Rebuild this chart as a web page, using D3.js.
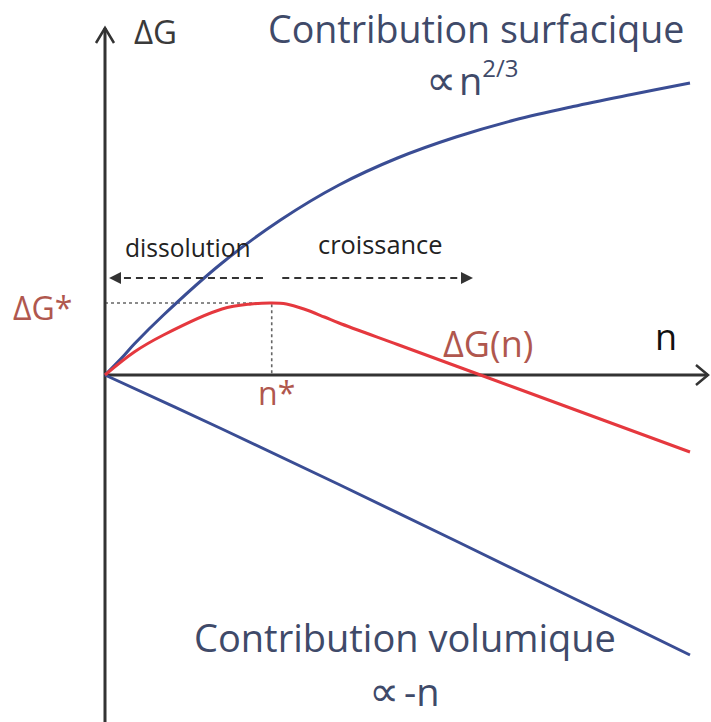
<!DOCTYPE html>
<html>
<head>
<meta charset="utf-8">
<script src="https://cdnjs.cloudflare.com/ajax/libs/d3/7.8.5/d3.min.js"></script>
<style>
  body { margin: 0; background: #fff; }
  svg { display: block; font-family: "Open Sans", "DejaVu Sans", sans-serif; }
</style>
</head>
<body>
<svg id="chart"></svg>
<script>
// n values (arbitrary units) and the three curves
var nSurface = [0, 0.3, 0.5, 1, 2, 3, 4, 5, 6, 7, 8, 9, 10];
var gSurface = [0, 0.36, 0.62, 1.20, 2.24, 3.10, 3.80, 4.34, 4.76, 5.10, 5.37, 5.61, 5.84];

var nVolume = [0, 2, 4, 6, 8, 10];
var gVolume = [0, -1.08, -2.19, -3.32, -4.46, -5.60];

var nTotal = [0, 0.5, 1, 2, 2.5, 2.85, 3.1, 3.4, 3.75, 4, 5, 6, 7, 8, 9, 10];
var gTotal = [0, 0.46, 0.80, 1.32, 1.42, 1.44, 1.42, 1.32, 1.16, 1.04, 0.61, 0.18, -0.25, -0.68, -1.11, -1.54];

// critical point
var nStar = 2.85;
var gStar = 1.44;

// dashed arrows (n from -> n to), drawn at the same height
var dissolutionArrow = [2.70, 0.09];
var croissanceArrow = [3.03, 6.27];
var arrowLevel = 1.94;

var width = 711;
var height = 722;

var svg = d3.select("#chart")
  .attr("width", width)
  .attr("height", height);

var x = d3.scaleLinear().domain([0, 10]).range([105, 690]);
var y = d3.scaleLinear().domain([-7, 7]).range([725, 25]);

var defs = svg.append("defs");
defs.append("marker")
  .attr("id", "tri")
  .attr("viewBox", "0 0 10 10")
  .attr("refX", 9)
  .attr("refY", 5)
  .attr("markerWidth", 6)
  .attr("markerHeight", 6)
  .attr("markerUnits", "strokeWidth")
  .attr("orient", "auto")
  .append("path")
  .attr("d", "M0,0 L10,5 L0,10 Z")
  .attr("fill", "#333");

function zip(ns, gs) {
  return ns.map(function(n, i) { return { n: n, g: gs[i] }; });
}

var line = d3.line()
  .x(function(d) { return x(d.n); })
  .y(function(d) { return y(d.g); })
  .curve(d3.curveCatmullRom.alpha(0.5));

// dotted guides to the maximum
svg.append("path")
  .attr("d", "M" + x(0) + "," + y(gStar) + "H" + x(nStar) + "V" + y(0))
  .attr("fill", "none")
  .attr("stroke", "#666")
  .attr("stroke-width", 1.6)
  .attr("stroke-dasharray", "3,3");

// axes
var axisColor = "#333";
svg.append("line")
  .attr("x1", x(0)).attr("y1", height)
  .attr("x2", x(0)).attr("y2", 28)
  .attr("stroke", axisColor).attr("stroke-width", 3);
svg.append("path")
  .attr("d", "M" + (x(0) - 9) + ",43 L" + x(0) + ",28 L" + (x(0) + 9) + ",43")
  .attr("fill", "none").attr("stroke", axisColor).attr("stroke-width", 2.5);
svg.append("line")
  .attr("x1", x(0)).attr("y1", y(0))
  .attr("x2", 708).attr("y2", y(0))
  .attr("stroke", axisColor).attr("stroke-width", 3);
svg.append("path")
  .attr("d", "M696," + (y(0) - 10) + " L708," + y(0) + " L696," + (y(0) + 10))
  .attr("fill", "none").attr("stroke", axisColor).attr("stroke-width", 2.5);

// curves
svg.append("path")
  .datum(zip(nSurface, gSurface))
  .attr("d", line)
  .attr("fill", "none")
  .attr("stroke", "#3a4d94")
  .attr("stroke-width", 3);
svg.append("path")
  .datum(zip(nVolume, gVolume))
  .attr("d", line)
  .attr("fill", "none")
  .attr("stroke", "#3a4d94")
  .attr("stroke-width", 3);
svg.append("path")
  .datum(zip(nTotal, gTotal))
  .attr("d", line)
  .attr("fill", "none")
  .attr("stroke", "#e5383e")
  .attr("stroke-width", 3);

// dashed arrows
[dissolutionArrow, croissanceArrow].forEach(function(a) {
  svg.append("line")
    .attr("x1", x(a[0])).attr("y1", y(arrowLevel))
    .attr("x2", x(a[1])).attr("y2", y(arrowLevel))
    .attr("stroke", "#333")
    .attr("stroke-width", 2)
    .attr("stroke-dasharray", "7,5")
    .attr("marker-end", "url(#tri)");
});

// labels
function label(txt, px, py, size, color) {
  return svg.append("text")
    .attr("x", px).attr("y", py)
    .attr("font-size", size)
    .attr("fill", color)
    .text(txt);
}
var slate = "#3f4a69";
var brick = "#b0574e";

label("ΔG", 134, 44, 33, "#3a3a3a");
label("Contribution surfacique", 268, 43, 37.6, slate);

var surf = svg.append("text").attr("x", 426).attr("y", 95).attr("fill", slate);
surf.append("tspan").attr("font-family", "DejaVu Sans").attr("font-size", 42).text("∝");
surf.append("tspan").attr("font-size", 38).attr("dx", 3).text("n");
surf.append("tspan").attr("font-size", 24).attr("dy", -18).text("2/3");

label("dissolution", 125, 257, 24.6, "#222");
label("croissance", 318, 254, 25.4, "#222");
label("ΔG*", 13, 320, 32, brick);
label("ΔG(n)", 443, 357, 36, brick);
label("n", 655, 350, 36, "#111");
label("n*", 258, 405, 32, brick);

label("Contribution volumique", 194, 652, 38, slate);
var vol = svg.append("text").attr("x", 369).attr("y", 706).attr("fill", slate);
vol.append("tspan").attr("font-family", "DejaVu Sans").attr("font-size", 42).text("∝");
vol.append("tspan").attr("font-size", 38).attr("dx", 5).text("-n");
</script>
</body>
</html>
